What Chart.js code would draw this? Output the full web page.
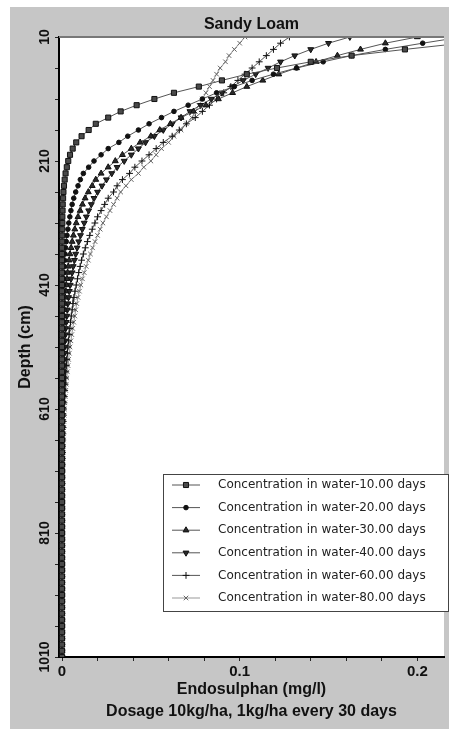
<!DOCTYPE html>
<html>
<head>
<meta charset="utf-8">
<script src="https://cdn.jsdelivr.net/npm/chart.js@4.4.0/dist/chart.umd.min.js"></script>
<style>
  html, body { margin: 0; padding: 0; background: #fff; }
  #wrap { width: 449px; height: 732px; }
</style>
</head>
<body>
<div id="wrap"><canvas id="chart" width="449" height="732"></canvas></div>
<script>
// depth below surface (cm), one sample every 10 cm
const depths = [
  10, 20, 30, 40, 50, 60, 70, 80, 90, 100,
  110, 120, 130, 140, 150, 160, 170, 180, 190, 200,
  210, 220, 230, 240, 250, 260, 270, 280, 290, 300,
  310, 320, 330, 340, 350, 360, 370, 380, 390, 400,
  410, 420, 430, 440, 450, 460, 470, 480, 490, 500,
  510, 520, 530, 540, 550, 560, 570, 580, 590, 600,
  610, 620, 630, 640, 650, 660, 670, 680, 690, 700,
  710, 720, 730, 740, 750, 760, 770, 780, 790, 800,
  810, 820, 830, 840, 850, 860, 870, 880, 890, 900,
  910, 920, 930, 940, 950, 960, 970, 980, 990, 1000,
  1010
];

// Endosulphan concentration in water (mg/l)
const conc10 = [
  0.26, 0.225, 0.193, 0.163, 0.140, 0.121, 0.104, 0.090, 0.077, 0.063,
  0.052, 0.042, 0.033, 0.026, 0.019, 0.015, 0.011, 0.008, 0.006, 0.0045,
  0.0035, 0.0027, 0.002, 0.0015, 0.0011, 0.0008, 0.0006, 0.0004, 0.0003, 0.0002,
  0.0002, 0.0001, 0.0001, 0.0001, 0, 0, 0, 0, 0, 0,
  0, 0, 0, 0, 0, 0, 0, 0, 0, 0,
  0, 0, 0, 0, 0, 0, 0, 0, 0, 0,
  0, 0, 0, 0, 0, 0, 0, 0, 0, 0,
  0, 0, 0, 0, 0, 0, 0, 0, 0, 0,
  0, 0, 0, 0, 0, 0, 0, 0, 0, 0,
  0, 0, 0, 0, 0, 0, 0, 0, 0, 0,
  0
];
const conc20 = [
  0.225, 0.203, 0.182, 0.163, 0.147, 0.132, 0.119, 0.107, 0.097, 0.087,
  0.079, 0.071, 0.063, 0.056, 0.049, 0.043, 0.037, 0.032, 0.026, 0.022,
  0.018, 0.015, 0.012, 0.0103, 0.009, 0.0077, 0.0066, 0.0057, 0.005, 0.0044,
  0.0038, 0.0033, 0.0028, 0.0024, 0.002, 0.0017, 0.0014, 0.0012, 0.001, 0.0008,
  0.0007, 0.0006, 0.0005, 0.0004, 0.0003, 0.0002, 0.0002, 0.0001, 0.0001, 0.0001,
  0, 0, 0, 0, 0, 0, 0, 0, 0, 0,
  0, 0, 0, 0, 0, 0, 0, 0, 0, 0,
  0, 0, 0, 0, 0, 0, 0, 0, 0, 0,
  0, 0, 0, 0, 0, 0, 0, 0, 0, 0,
  0, 0, 0, 0, 0, 0, 0, 0, 0, 0,
  0
];
const conc30 = [
  0.200, 0.182, 0.168, 0.155, 0.143, 0.132, 0.122, 0.113, 0.104, 0.096,
  0.088, 0.081, 0.074, 0.067, 0.061, 0.055, 0.050, 0.044, 0.039, 0.034,
  0.030, 0.026, 0.022, 0.019, 0.017, 0.0148, 0.013, 0.0115, 0.0102, 0.009,
  0.008, 0.0072, 0.0064, 0.0057, 0.0051, 0.0045, 0.004, 0.0035, 0.0031, 0.0027,
  0.0024, 0.0021, 0.0018, 0.0016, 0.0014, 0.0012, 0.001, 0.0009, 0.0008, 0.0007,
  0.0006, 0.0005, 0.0004, 0.0003, 0.0003, 0.0002, 0.0002, 0.0001, 0.0001, 0.0001,
  0, 0, 0, 0, 0, 0, 0, 0, 0, 0,
  0, 0, 0, 0, 0, 0, 0, 0, 0, 0,
  0, 0, 0, 0, 0, 0, 0, 0, 0, 0,
  0, 0, 0, 0, 0, 0, 0, 0, 0, 0,
  0
];
const conc40 = [
  0.162, 0.150, 0.140, 0.131, 0.123, 0.116, 0.109, 0.102, 0.096, 0.090,
  0.084, 0.078, 0.072, 0.067, 0.062, 0.057, 0.052, 0.047, 0.043, 0.039,
  0.035, 0.031, 0.028, 0.025, 0.0225, 0.020, 0.018, 0.0165, 0.015, 0.0137,
  0.0125, 0.0114, 0.0104, 0.0094, 0.0085, 0.0077, 0.007, 0.0063, 0.0057, 0.0051,
  0.0046, 0.0041, 0.0037, 0.0033, 0.003, 0.0027, 0.0024, 0.0021, 0.0019, 0.0017,
  0.0015, 0.0013, 0.0011, 0.001, 0.0009, 0.0008, 0.0007, 0.0006, 0.0005, 0.0004,
  0.0003, 0.0003, 0.0002, 0.0002, 0.0001, 0.0001, 0.0001, 0, 0, 0,
  0, 0, 0, 0, 0, 0, 0, 0, 0, 0,
  0, 0, 0, 0, 0, 0, 0, 0, 0, 0,
  0, 0, 0, 0, 0, 0, 0, 0, 0, 0,
  0
];
const conc60 = [
  0.128, 0.123, 0.119, 0.115, 0.111, 0.107, 0.103, 0.099, 0.095, 0.091,
  0.087, 0.083, 0.079, 0.075, 0.070, 0.066, 0.062, 0.057, 0.053, 0.049,
  0.045, 0.041, 0.038, 0.034, 0.031, 0.029, 0.026, 0.024, 0.022, 0.020,
  0.0185, 0.017, 0.0156, 0.0143, 0.0131, 0.012, 0.011, 0.0102, 0.0094, 0.0087,
  0.008, 0.0073, 0.0067, 0.0062, 0.0057, 0.0052, 0.0048, 0.0044, 0.004, 0.0036,
  0.0033, 0.003, 0.0027, 0.0024, 0.0021, 0.0019, 0.0017, 0.0015, 0.0013, 0.0011,
  0.0009, 0.0008, 0.0007, 0.0006, 0.0005, 0.0004, 0.0003, 0.0003, 0.0002, 0.0002,
  0.0001, 0.0001, 0.0001, 0, 0, 0, 0, 0, 0, 0,
  0, 0, 0, 0, 0, 0, 0, 0, 0, 0,
  0, 0, 0, 0, 0, 0, 0, 0, 0, 0,
  0
];
const conc80 = [
  0.103, 0.100, 0.097, 0.094, 0.092, 0.089, 0.087, 0.085, 0.083, 0.081,
  0.079, 0.077, 0.075, 0.073, 0.070, 0.067, 0.063, 0.060, 0.056, 0.053,
  0.050, 0.046, 0.043, 0.039, 0.036, 0.033, 0.031, 0.029, 0.027, 0.025,
  0.023, 0.0215, 0.020, 0.0186, 0.0172, 0.016, 0.0148, 0.0136, 0.0125, 0.0115,
  0.0106, 0.0098, 0.009, 0.0083, 0.0077, 0.0072, 0.0066, 0.006, 0.0055, 0.005,
  0.0045, 0.0041, 0.0037, 0.0034, 0.003, 0.0027, 0.0024, 0.0021, 0.0018, 0.0016,
  0.0014, 0.0012, 0.001, 0.0009, 0.0008, 0.0007, 0.0006, 0.0005, 0.0004, 0.0003,
  0.0003, 0.0002, 0.0002, 0.0001, 0.0001, 0.0001, 0, 0, 0, 0,
  0, 0, 0, 0, 0, 0, 0, 0, 0, 0,
  0, 0, 0, 0, 0, 0, 0, 0, 0, 0,
  0
];

const seriesNames = [
  "Concentration in water-10.00 days",
  "Concentration in water-20.00 days",
  "Concentration in water-30.00 days",
  "Concentration in water-40.00 days",
  "Concentration in water-60.00 days",
  "Concentration in water-80.00 days"
];

const xTickValues = [0, 0.02, 0.04, 0.06, 0.08, 0.1, 0.12, 0.14, 0.16, 0.18, 0.2];
const xTickLabels = [0, 0.1, 0.2];
const yTickValues = [10, 60, 110, 160, 210, 260, 310, 360, 410, 460, 510,
  560, 610, 660, 710, 760, 810, 860, 910, 960, 1010];
const yTickLabels = [10, 210, 410, 610, 810, 1010];

const chartTitle = "Sandy Loam";
const xTitle = "Endosulphan (mg/l)";
const yTitle = "Depth (cm)";
const footNote = "Dosage 10kg/ha, 1kg/ha every 30 days";

const BOLD = '"Liberation Sans", Arial, sans-serif';
const LEG_FONT = '12px "DejaVu Sans", Verdana, sans-serif';

const styles = [
  { pointStyle: "rect", radius: 3.6, bg: "#4a4a4a", border: "#111", line: "#555", rot: 0 },
  { pointStyle: "circle", radius: 2.3, bg: "#111", border: "#111", line: "#555", rot: 0 },
  { pointStyle: "triangle", radius: 3.4, bg: "#2a2a2a", border: "#111", line: "#555", rot: 0 },
  { pointStyle: "triangle", radius: 3.4, bg: "#2a2a2a", border: "#111", line: "#555", rot: 180 },
  { pointStyle: "cross", radius: 3.4, bg: "#111", border: "#111", line: "#555", rot: 0 },
  { pointStyle: "crossRot", radius: 3.2, bg: "#777", border: "#666", line: "#999", rot: 0 }
];

const allSeries = [conc10, conc20, conc30, conc40, conc60, conc80];

const datasets = allSeries.map((vals, i) => ({
  label: seriesNames[i],
  data: vals.map((v, j) => ({ x: v, y: depths[j] })),
  showLine: true,
  borderColor: styles[i].line,
  borderWidth: 1,
  pointStyle: styles[i].pointStyle,
  pointRotation: styles[i].rot,
  pointRadius: styles[i].radius,
  pointBackgroundColor: styles[i].bg,
  pointBorderColor: styles[i].border,
  pointBorderWidth: 1
}));

function drawMarker(ctx, st, x, y) {
  ctx.save();
  ctx.fillStyle = st.bg;
  ctx.strokeStyle = st.border;
  ctx.lineWidth = 1;
  if (Chart.helpers && Chart.helpers.drawPoint) {
    Chart.helpers.drawPoint(ctx, { pointStyle: st.pointStyle, rotation: st.rot, radius: st.radius, borderWidth: 1 }, x, y);
  }
  ctx.restore();
}

const framePlugin = {
  id: "frame",
  beforeDraw(chart) {
    const { ctx, chartArea: a, width, height } = chart;
    ctx.save();
    ctx.fillStyle = "#fff";
    ctx.fillRect(0, 0, width, height);
    ctx.fillStyle = "#c6c6c6";
    ctx.fillRect(10, 7, width - 10, 722);
    ctx.fillStyle = "#fff";
    ctx.fillRect(a.left, a.top, a.right - a.left, a.bottom - a.top);
    ctx.restore();
  },
  afterDraw(chart) {
    const { ctx, chartArea: a } = chart;
    const yScale = chart.scales.y;
    const cx = (a.left + a.right) / 2;
    ctx.save();

    // top border of the plot
    ctx.strokeStyle = "#777";
    ctx.lineWidth = 2;
    ctx.beginPath();
    ctx.moveTo(a.left, a.top);
    ctx.lineTo(a.right, a.top);
    ctx.stroke();

    ctx.fillStyle = "#111";
    ctx.textBaseline = "middle";
    ctx.textAlign = "center";

    // title, axis titles, footnote
    ctx.font = "bold 16px " + BOLD;
    ctx.fillText(chartTitle, cx, 25);
    ctx.fillText(xTitle, cx, 690);
    ctx.fillText(footNote, cx, 712);
    ctx.save();
    ctx.translate(26, (a.top + a.bottom) / 2);
    ctx.rotate(-Math.PI / 2);
    ctx.fillText(yTitle, 0, 0);
    ctx.restore();

    // y tick labels, rotated
    ctx.font = "bold 14px " + BOLD;
    yTickLabels.forEach(v => {
      const py = yScale.getPixelForValue(v);
      ctx.save();
      ctx.translate(45, py);
      ctx.rotate(-Math.PI / 2);
      ctx.fillText(String(v), 0, 0);
      ctx.restore();
    });

    // legend box
    const lx = 163.5, ly = 474.5, lw = 285, lh = 137;
    ctx.fillStyle = "#fff";
    ctx.fillRect(lx, ly, lw, lh);
    ctx.strokeStyle = "#444";
    ctx.lineWidth = 1;
    ctx.strokeRect(lx, ly, lw, lh);
    ctx.font = LEG_FONT;
    ctx.textAlign = "left";
    seriesNames.forEach((name, i) => {
      const ry = 485 + i * 22.6;
      ctx.strokeStyle = styles[i].line;
      ctx.beginPath();
      ctx.moveTo(172, ry);
      ctx.lineTo(200, ry);
      ctx.stroke();
      drawMarker(ctx, styles[i], 186, ry);
      ctx.fillStyle = "#222";
      ctx.fillText(name, 218, ry);
    });
    ctx.restore();
  }
};

new Chart(document.getElementById("chart"), {
  type: "scatter",
  data: { datasets },
  options: {
    responsive: false,
    animation: false,
    layout: { padding: { left: 10, top: 37, right: 0, bottom: 0 } },
    plugins: {
      legend: { display: false },
      tooltip: { enabled: false },
      title: { display: false }
    },
    scales: {
      x: {
        type: "linear",
        position: "bottom",
        min: -0.0017,
        max: 0.215,
        afterBuildTicks: s => { s.ticks = xTickValues.map(v => ({ value: v })); },
        afterFit: s => { s.height = 75; },
        ticks: {
          autoSkip: false,
          maxRotation: 0,
          padding: 2,
          color: "#111",
          font: { family: BOLD, size: 15, weight: "bold" },
          callback: v => xTickLabels.some(t => Math.abs(t - v) < 1e-9) ? String(+v.toFixed(2)) : ""
        },
        grid: { drawOnChartArea: false, drawTicks: true, tickLength: 4, color: "#222" },
        border: { color: "#000", width: 2 }
      },
      y: {
        type: "linear",
        reverse: true,
        min: 10,
        max: 1010,
        afterBuildTicks: s => { s.ticks = yTickValues.map(v => ({ value: v })); },
        afterFit: s => { s.width = 49; },
        ticks: { display: false },
        grid: { drawOnChartArea: false, drawTicks: true, tickLength: 4, color: "#222" },
        border: { color: "#000", width: 2 }
      }
    }
  },
  plugins: [framePlugin]
});
</script>
</body>
</html>
